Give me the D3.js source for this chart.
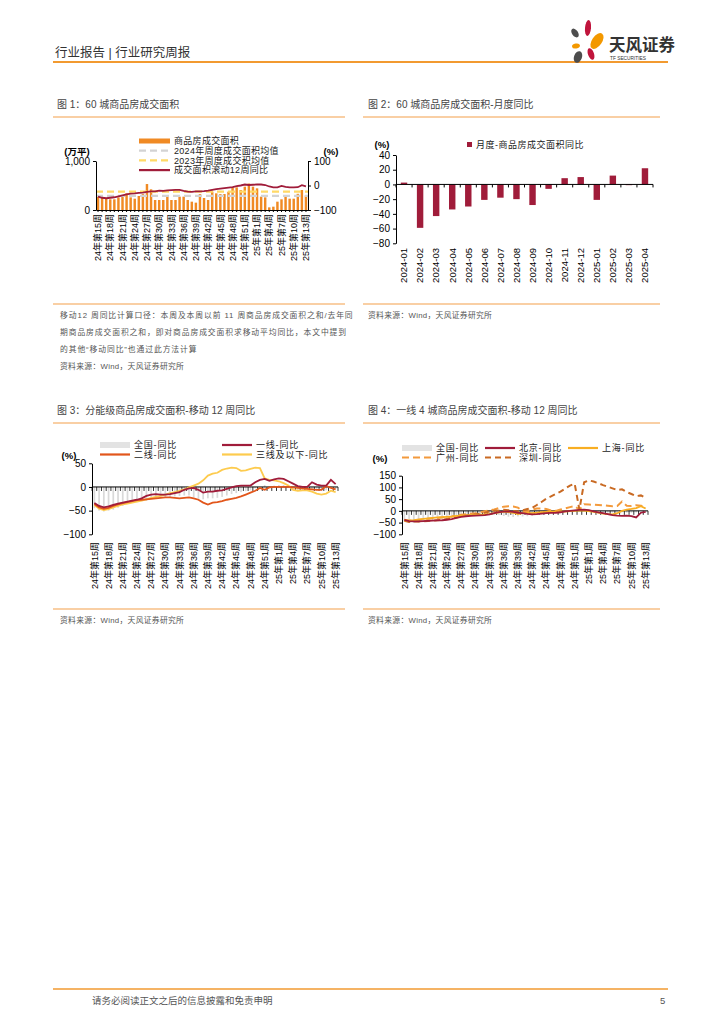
<!DOCTYPE html>
<html>
<head>
<meta charset="utf-8">
<script src="https://cdn.jsdelivr.net/npm/d3@7"></script>
<style>
  body { margin: 0; background: #fff; }
  text { font-family: "Liberation Sans", "Noto Sans CJK SC", sans-serif; }
</style>
</head>
<body>
<div id="container"></div>
<script>
// week categories: 24年第15周 .. 24年第53周, 25年第1周 .. 25年第13周
const weeks = d3.range(15, 54).map(w => `24年第${w}周`)
    .concat(d3.range(1, 14).map(w => `25年第${w}周`));

// 图1 60城商品房成交面积 (万平)
const area60 = [286, 258, 238, 218, 218, 258, 286, 340, 258, 231, 286, 326, 530, 422, 204, 204,
    204, 272, 204, 204, 272, 272, 204, 170, 150, 326, 245, 204, 374, 340, 326, 326, 374, 462,
    462, 408, 476, 540, 476, 442, 272, 258, 54, 68, 170, 218, 300, 231, 231, 330, 408, 300];
const avg2024 = 290;
const avg2023 = 375;
// 成交面积滚动12周同比 (%), also 全国-同比 in 图3 / 图4
const yoy60 = [-45, -50, -52, -50, -48, -44, -40, -36, -33, -32, -30, -29, -26, -24, -24, -21,
    -22, -20, -19, -18, -18, -22, -25, -26, -24, -24, -23, -21, -18, -15, -13, -11, -9, -7, -3,
    0, 4, 2, 3, 4, 4, 2, -4, -8, -8, -2, -6, -8, -8, -7, 1, -4];

// 图2 月度同比
const months = ["2024-01", "2024-02", "2024-03", "2024-04", "2024-05", "2024-06", "2024-07", "2024-08",
    "2024-09", "2024-10", "2024-11", "2024-12", "2025-01", "2025-02", "2025-03", "2025-04"];
const monthYoy = [2.5, -59, -43, -34, -30, -21, -18, -20, -28, -6, 8.5, 10, -21, 12, -1, 22];

// 图3 分能级
const tier1 = [-34, -40, -43, -41, -38, -35, -33, -31, -29, -27, -24, -19, -16, -15, -16, -16,
    -15, -13, -11, -6, -3, -2, -6, -12, -10, -10, -8, -7, -4, -1, 2, 3, 3, 3, 10, 15, 17, 13, 16,
    18, 17, 12, 7, 2, 0, 0, 10, 5, 3, 3, 15, 6];
const tier2 = [-36, -43, -46, -44, -40, -37, -34, -32, -30, -28, -27, -26, -25, -24, -23, -22,
    -22, -23, -24, -23, -22, -24, -27, -33, -37, -33, -32, -30, -27, -25, -23, -20, -16, -12, -8,
    -2, -6, -1, 0, 0, 0, 0, -1, -2, -3, -4, -5, -6, -6, 2, -2, -5];
const tier3 = [-38, -46, -49, -47, -43, -40, -37, -35, -33, -31, -29, -26, -23, -21, -19, -16,
    -13, -11, -8, -5, -1, 3, 7, 14, 24, 28, 30, 36, 39, 41, 40, 34, 35, 38, 41, 40, 18, 15, 14,
    12, 8, 3, -6, -8, -7, -7, -10, -14, -16, -14, -8, -11];

// 图4 一线4城
const bj = [-38, -44, -45, -45, -44, -43, -42, -41, -40, -38, -35, -30, -26, -23, -21, -20, -19,
    -18, -15, -10, -5, -3, -2, -4, -8, -10, -13, -15, -14, -12, -10, -9, -8, -6, -2, 0, 2, 4, 5,
    3, -2, -6, -10, -14, -18, -20, -21, -20, -22, -28, -8, -4];
const sh = [-40, -42, -40, -37, -34, -32, -30, -28, -27, -26, -25, -22, -20, -19, -18, -17, -16,
    -15, -13, -10, -6, -3, -5, -8, -14, -10, -9, -10, -8, -5, -4, -3, -2, -2, -3, -1, 0, 2, 1,
    -1, -4, -8, -12, -14, -15, -10, 0, 5, 8, 12, 20, 10];
const gz = [-38, -42, -40, -38, -36, -34, -32, -30, -28, -26, -24, -20, -17, -14, -12, -10, -6,
    -2, 2, 6, 12, 18, 20, 19, 14, 0, -2, 5, 10, 10, 8, 2, 0, 6, 10, 16, 20, 5, 28, 27, 26, 25,
    24, 22, 20, 21, 40, 22, 21, 24, 22, 17];
const sz = [-42, -47, -46, -45, -44, -43, -42, -40, -38, -35, -32, -28, -24, -20, -17, -15, -12,
    -8, -3, 0, 2, 5, 3, 0, -3, 2, 8, 12, 25, 38, 52, 62, 72, 82, 95, 108, 116, 5, 122, 130, 125,
    118, 110, 103, 96, 89, 92, 80, 72, 63, 66, 55];

const ORANGE = "#F08A24";
const RED = "#A01C3A";
const LINE_ORANGE = "#F39A3C";

const svg = d3.select("#container").append("svg")
    .attr("width", 724).attr("height", 1024);
svg.append("rect").attr("width", 724).attr("height", 1024).attr("fill", "#fff");

// ---------- header ----------
svg.append("text").attr("x", 55).attr("y", 57).attr("font-size", 12.5)
    .attr("fill", "#333").text("行业报告 | 行业研究周报");
svg.append("line").attr("x1", 53).attr("x2", 668).attr("y1", 62).attr("y2", 62)
    .attr("stroke", "#F29A30").attr("stroke-width", 2);

// logo petals
const petals = [
    { cx: 575, cy: 33, rx: 3, ry: 5, r: -35, c: "#4D4D4D" },
    { cx: 588, cy: 28, rx: 3, ry: 8, r: 5, c: "#C0143C" },
    { cx: 597, cy: 41, rx: 5, ry: 9, r: 35, c: "#F39800" },
    { cx: 576, cy: 46, rx: 4, ry: 2.5, r: -10, c: "#F39800" },
    { cx: 591, cy: 54, rx: 3, ry: 6, r: -20, c: "#C0143C" },
    { cx: 578, cy: 57, rx: 4, ry: 6, r: 20, c: "#4D4D4D" }
];
svg.selectAll(".petal").data(petals).enter().append("ellipse")
    .attr("class", "petal")
    .attr("cx", d => d.cx).attr("cy", d => d.cy)
    .attr("rx", d => d.rx).attr("ry", d => d.ry)
    .attr("transform", d => `rotate(${d.r},${d.cx},${d.cy})`)
    .attr("fill", d => d.c);
svg.append("text").attr("x", 609).attr("y", 51).attr("font-size", 16.5).attr("font-weight", "bold")
    .attr("fill", "#333").text("天风证券");
svg.append("text").attr("x", 610).attr("y", 59.5).attr("font-size", 4.8)
    .attr("fill", "#333").text("TF SECURITIES");

// ---------- helpers ----------
function title(x, y, txt, x1, x2) {
    svg.append("text").attr("x", x).attr("y", y).attr("font-size", 10)
        .attr("fill", "#444").text(txt);
    svg.append("line").attr("x1", x1).attr("x2", x2).attr("y1", y + 9).attr("y2", y + 9)
        .attr("stroke", "#F4A04A").attr("stroke-width", 1.2);
}
function note(x, y, txt, ls) {
    svg.append("text").attr("x", x).attr("y", y).attr("font-size", 7.8)
        .attr("letter-spacing", ls || 0.3)
        .attr("fill", "#555").text(txt);
}
function sepLine(x1, x2, y) {
    svg.append("line").attr("x1", x1).attr("x2", x2).attr("y1", y).attr("y2", y)
        .attr("stroke", "#F4A04A").attr("stroke-width", 1.2);
}
function styleAxis(g, size) {
    g.selectAll("path,line").attr("stroke", "#000").attr("stroke-width", 1);
    g.selectAll("text").attr("font-size", size || 10).attr("fill", "#000")
        .attr("font-family", "Liberation Sans, Noto Sans CJK SC, sans-serif");
}
function weekLabels(x, y0) {
    const g = svg.append("g");
    g.selectAll("text").data(weeks.filter((d, i) => i % 3 === 0)).enter().append("text")
        .attr("transform", d => `translate(${x(d) + x.bandwidth() / 2},${y0}) rotate(-90)`)
        .attr("text-anchor", "end").attr("dy", "0.35em")
        .attr("font-size", 9).attr("fill", "#000").text(d => d);
}

// ---------- 图1 ----------
title(57, 108, "图 1：60 城商品房成交面积", 53, 345);
{
    const x = d3.scaleBand().domain(weeks).range([96, 308]).paddingInner(0.4).paddingOuter(0.2);
    const y = d3.scaleLinear().domain([0, 1000]).range([210, 161]);
    const yr = d3.scaleLinear().domain([-100, 100]).range([210, 161]);

    svg.append("g").selectAll("rect").data(area60).enter().append("rect")
        .attr("x", (d, i) => x(weeks[i])).attr("y", d => y(d))
        .attr("width", x.bandwidth()).attr("height", d => y(0) - y(d))
        .attr("fill", ORANGE);

    [[avg2024, "#D3D3D3"], [avg2023, "#FFD966"]].forEach(([v, c]) => {
        svg.append("line").attr("x1", 96).attr("x2", 308).attr("y1", y(v)).attr("y2", y(v))
            .attr("stroke", c).attr("stroke-width", 2.2).attr("stroke-dasharray", "7,4");
    });

    const line = d3.line().x((d, i) => x(weeks[i]) + x.bandwidth() / 2).y(d => yr(d));
    svg.append("path").datum(yoy60).attr("d", line).attr("fill", "none")
        .attr("stroke", RED).attr("stroke-width", 1.8);

    const gl = svg.append("g").attr("transform", "translate(96,0)")
        .call(d3.axisLeft(y).tickValues([0, 1000]).tickFormat(d3.format(",")).tickSize(3).tickSizeOuter(0));
    styleAxis(gl);
    const gr = svg.append("g").attr("transform", "translate(308,0)")
        .call(d3.axisRight(yr).tickValues([-100, 0, 100]).tickSize(3).tickSizeOuter(0));
    styleAxis(gr);
    const gb = svg.append("g").attr("transform", "translate(0,210)")
        .call(d3.axisBottom(x).tickSize(2).tickSizeOuter(0).tickFormat(""));
    styleAxis(gb);
    weekLabels(x, 214);

    svg.append("text").attr("x", 77).attr("y", 155).attr("text-anchor", "middle")
        .attr("font-size", 9.5).attr("font-weight", "bold").text("(万平)");
    svg.append("text").attr("x", 331).attr("y", 155).attr("text-anchor", "middle")
        .attr("font-size", 9.5).attr("font-weight", "bold").text("(%)");

    // legend
    const lg = svg.append("g").attr("font-size", 9).attr("letter-spacing", 0.3);
    const items = [
        { t: "商品房成交面积", type: "bar", c: ORANGE },
        { t: "2024年周度成交面积均值", type: "dash", c: "#D3D3D3" },
        { t: "2023年周度成交积均值", type: "dash", c: "#FFD966" },
        { t: "成交面积滚动12周同比", type: "line", c: RED }
    ];
    items.forEach((d, i) => {
        const yy = 141 + i * 9.7;
        if (d.type === "bar") {
            lg.append("rect").attr("x", 139).attr("y", yy - 2.5).attr("width", 31).attr("height", 5).attr("fill", d.c);
        } else {
            lg.append("line").attr("x1", 139).attr("x2", 170).attr("y1", yy).attr("y2", yy)
                .attr("stroke", d.c).attr("stroke-width", 2.2)
                .attr("stroke-dasharray", d.type === "dash" ? "7,4" : null);
        }
        lg.append("text").attr("x", 174).attr("y", yy).attr("dy", "0.35em").attr("fill", "#222").text(d.t);
    });
}

// ---------- 图2 ----------
title(368, 108, "图 2：60 城商品房成交面积-月度同比", 363, 660);
{
    const x = d3.scaleBand().domain(months).range([396, 653]).paddingInner(0.6).paddingOuter(0.3);
    const y = d3.scaleLinear().domain([-80, 40]).range([243.3, 155]);

    svg.append("g").selectAll("rect").data(monthYoy).enter().append("rect")
        .attr("x", (d, i) => x(months[i])).attr("y", d => y(Math.max(0, d)))
        .attr("width", x.bandwidth()).attr("height", d => Math.abs(y(d) - y(0)))
        .attr("fill", RED);

    const gl = svg.append("g").attr("transform", "translate(396,0)")
        .call(d3.axisLeft(y).tickValues(d3.range(-80, 41, 20)).tickSize(3).tickSizeOuter(0));
    styleAxis(gl);
    // zero line with ticks between bars
    const z = svg.append("g");
    z.append("line").attr("x1", 396).attr("x2", 653).attr("y1", y(0)).attr("y2", y(0))
        .attr("stroke", "#000");
    z.selectAll(".tk").data(d3.range(months.length + 1)).enter().append("line")
        .attr("x1", i => 396 + i * x.step()).attr("x2", i => 396 + i * x.step())
        .attr("y1", y(0)).attr("y2", y(0) + 3).attr("stroke", "#000");
    svg.append("g").selectAll("text").data(months).enter().append("text")
        .attr("transform", d => `translate(${x(d) + x.bandwidth() / 2},248) rotate(-90)`)
        .attr("text-anchor", "end").attr("dy", "0.35em")
        .attr("font-size", 9.5).text(d => d);

    svg.append("text").attr("x", 382).attr("y", 148).attr("text-anchor", "middle")
        .attr("font-size", 9.5).attr("font-weight", "bold").text("(%)");
    svg.append("rect").attr("x", 467).attr("y", 142).attr("width", 5).attr("height", 5).attr("fill", RED);
    svg.append("text").attr("x", 476).attr("y", 145).attr("dy", "0.35em").attr("font-size", 9)
        .attr("letter-spacing", 0.5).attr("fill", "#222").text("月度-商品房成交面积同比");
}

// notes under row 1
sepLine(53, 345, 304);
sepLine(363, 660, 304);
note(60, 318, "移动12 周同比计算口径：本周及本周以前 11 周商品房成交面积之和/去年同", 0.9);
note(60, 335, "期商品房成交面积之和，即对商品房成交面积求移动平均同比，本文中提到", 0.9);
note(60, 352, "的其他“移动同比”也通过此方法计算", 0.9);
note(60, 369, "资料来源：Wind，天风证券研究所");
note(368, 318, "资料来源：Wind，天风证券研究所");

// ---------- 图3 / 图4 shared ----------
function lineChart(opt) {
    const x = d3.scaleBand().domain(weeks).range([opt.x0, opt.x1]).paddingInner(0.64).paddingOuter(0.32);
    const y = d3.scaleLinear().domain(opt.domain).range([534.3, opt.yTop]);

    // 全国 gray bars
    svg.append("g").selectAll("rect").data(yoy60).enter().append("rect")
        .attr("x", (d, i) => x(weeks[i])).attr("y", d => y(Math.max(0, d)))
        .attr("width", x.bandwidth()).attr("height", d => Math.abs(y(d) - y(0)))
        .attr("fill", "#D9D9D9");

    const gl = svg.append("g").attr("transform", `translate(${opt.x0},0)`)
        .call(d3.axisLeft(y).tickValues(opt.ticks).tickSize(3).tickSizeOuter(0));
    styleAxis(gl);

    const z = svg.append("g");
    z.append("line").attr("x1", opt.x0).attr("x2", opt.x1).attr("y1", y(0)).attr("y2", y(0))
        .attr("stroke", "#000");
    z.selectAll(".tk").data(d3.range(weeks.length + 1)).enter().append("line")
        .attr("x1", i => opt.x0 + i * x.step()).attr("x2", i => opt.x0 + i * x.step())
        .attr("y1", y(0)).attr("y2", y(0) + 4).attr("stroke", "#000").attr("stroke-width", 0.8);

    const line = d3.line().x((d, i) => x(weeks[i]) + x.bandwidth() / 2).y(d => y(d));
    opt.series.forEach(s => {
        svg.append("path").datum(s.data).attr("d", line).attr("fill", "none")
            .attr("stroke", s.c).attr("stroke-width", s.w || 1.8)
            .attr("stroke-dasharray", s.dash || null);
    });
    weekLabels(x, 542);
}

function legendItem(x, y, d) {
    if (d.type === "bar") {
        svg.append("rect").attr("x", x).attr("y", y - 3).attr("width", 30).attr("height", 6).attr("fill", d.c);
    } else {
        svg.append("line").attr("x1", x).attr("x2", x + 30).attr("y1", y).attr("y2", y)
            .attr("stroke", d.c).attr("stroke-width", 2.2).attr("stroke-dasharray", d.dash || null);
    }
    svg.append("text").attr("x", x + 34).attr("y", y).attr("dy", "0.35em").attr("font-size", 9)
        .attr("letter-spacing", 0.8).attr("fill", "#222").text(d.t);
}

// ---------- 图3 ----------
title(57, 414, "图 3：分能级商品房成交面积-移动 12 周同比", 53, 345);
lineChart({
    x0: 92, x1: 338, domain: [-100, 50], yTop: 463.3, ticks: [-100, -50, 0, 50],
    series: [
        { data: tier3, c: "#FDCB4E" },
        { data: tier2, c: "#E2561B" },
        { data: tier1, c: RED }
    ]
});
svg.append("text").attr("x", 69).attr("y", 459).attr("text-anchor", "middle")
    .attr("font-size", 9.5).attr("font-weight", "bold").text("(%)");
legendItem(100, 445, { t: "全国-同比", type: "bar", c: "#E3E3E3" });
legendItem(222, 445, { t: "一线-同比", type: "line", c: RED });
legendItem(100, 454.5, { t: "二线-同比", type: "line", c: "#E2561B" });
legendItem(222, 454.5, { t: "三线及以下-同比", type: "line", c: "#FDCB4E" });

// ---------- 图4 ----------
title(368, 414, "图 4：一线 4 城商品房成交面积-移动 12 周同比", 363, 660);
lineChart({
    x0: 402, x1: 648, domain: [-100, 150], yTop: 475.7, ticks: [-100, -50, 0, 50, 100, 150],
    series: [
        { data: gz, c: LINE_ORANGE, dash: "7,4", w: 2 },
        { data: sz, c: "#C96A23", dash: "6,4", w: 2 },
        { data: sh, c: "#F8AE22" },
        { data: bj, c: RED }
    ]
});
svg.append("text").attr("x", 380).attr("y", 462).attr("text-anchor", "middle")
    .attr("font-size", 9.5).attr("font-weight", "bold").text("(%)");
legendItem(402, 448, { t: "全国-同比", type: "bar", c: "#E3E3E3" });
legendItem(485, 448, { t: "北京-同比", type: "line", c: RED });
legendItem(568, 448, { t: "上海-同比", type: "line", c: "#F8AE22" });
legendItem(402, 457.5, { t: "广州-同比", type: "line", c: LINE_ORANGE, dash: "7,4" });
legendItem(485, 457.5, { t: "深圳-同比", type: "line", c: "#C96A23", dash: "6,4" });

sepLine(53, 345, 609);
sepLine(363, 660, 609);
note(60, 623, "资料来源：Wind，天风证券研究所");
note(368, 623, "资料来源：Wind，天风证券研究所");

// ---------- footer ----------
svg.append("line").attr("x1", 53).attr("x2", 668).attr("y1", 989).attr("y2", 989)
    .attr("stroke", "#F29A30").attr("stroke-width", 1.5);
svg.append("text").attr("x", 92).attr("y", 1004).attr("font-size", 9.5).attr("fill", "#555")
    .text("请务必阅读正文之后的信息披露和免责申明");
svg.append("text").attr("x", 660).attr("y", 1004).attr("font-size", 9.5).attr("fill", "#555").text("5");
</script>
</body>
</html>
